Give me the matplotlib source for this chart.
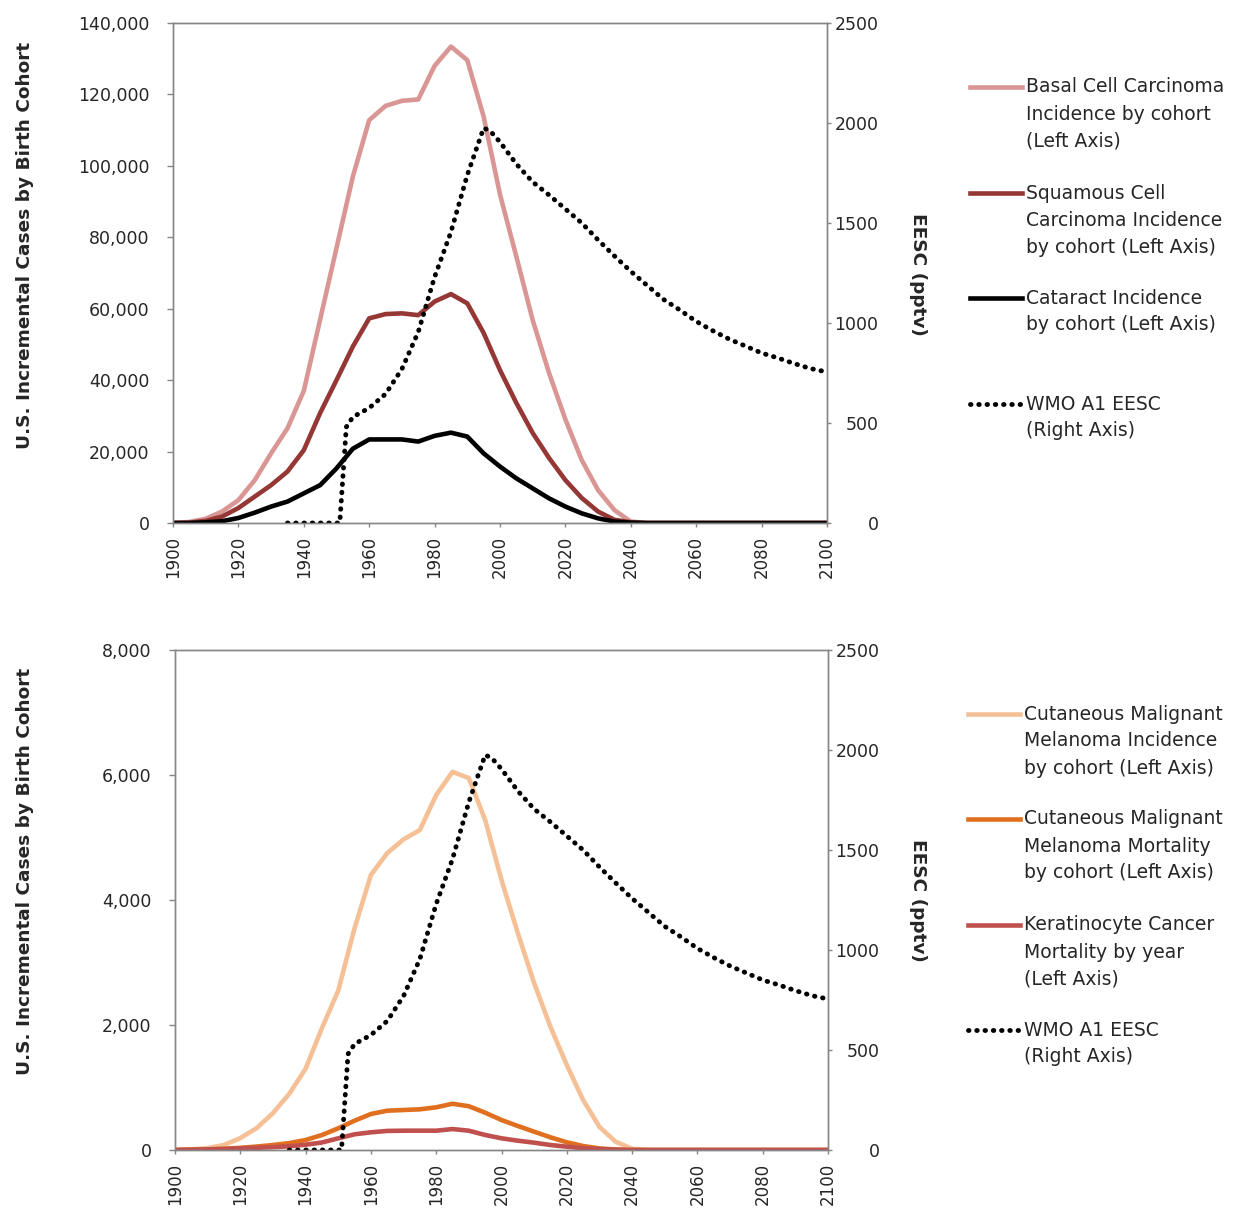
#Two stacked twin-axis charts: UV effects by birth cohort vs EESC
import matplotlib
matplotlib.use("Agg")
import matplotlib.pyplot as plt
from matplotlib.lines import Line2D
from matplotlib.ticker import FuncFormatter

W, H = 1233, 1210

#Data (birth cohorts every 5 years)
years = [1900, 1905, 1910, 1915, 1920, 1925, 1930, 1935, 1940, 1945,
         1950, 1955, 1960, 1965, 1970, 1975, 1980, 1985, 1990, 1995,
         2000, 2005, 2010, 2015, 2020, 2025, 2030, 2035, 2040, 2045,
         2050, 2055, 2060, 2065, 2070, 2075, 2080, 2085, 2090, 2095, 2100]

basal = [0, 300, 1200, 3200, 6400, 12000, 19500, 26500, 37000, 57000,
         77000, 97000, 112800, 116800, 118200, 118600, 128000, 133400, 129600, 113800,
         92000, 74600, 56800, 42000, 29000, 17600, 9200, 3600, 400, 0,
         0, 0, 0, 0, 0, 0, 0, 0, 0, 0, 0]
squamous = [0, 100, 600, 1800, 4200, 7400, 10600, 14400, 20400, 30800,
            40000, 49400, 57300, 58500, 58700, 58200, 62000, 64100, 61500, 53200,
            42800, 33600, 25200, 18200, 12000, 7000, 3200, 900, 200, 0,
            0, 0, 0, 0, 0, 0, 0, 0, 0, 0, 0]
cataract = [0, 0, 200, 500, 1400, 2900, 4600, 6000, 8300, 10600,
            15300, 20800, 23400, 23400, 23400, 22800, 24400, 25300, 24200, 19500,
            15800, 12500, 9700, 6900, 4600, 2700, 1300, 400, 100, 0,
            0, 0, 0, 0, 0, 0, 0, 0, 0, 0, 0]

mel_inc = [0, 10, 30, 80, 190, 350, 590, 900, 1300, 1950,
           2550, 3550, 4400, 4750, 4970, 5120, 5680, 6050, 5950, 5280,
           4320, 3470, 2670, 1970, 1360, 800, 370, 130, 20, 0,
           0, 0, 0, 0, 0, 0, 0, 0, 0, 0, 0]
mel_mort = [0, 5, 10, 20, 35, 55, 80, 110, 160, 240,
            347, 469, 576, 629, 640, 651, 683, 740, 700, 597,
            480, 384, 293, 203, 123, 64, 25, 8, 0, 0,
            0, 0, 0, 0, 0, 0, 0, 0, 0, 0, 0]
kera_mort = [0, 5, 10, 15, 25, 35, 45, 60, 85, 120,
             187, 251, 283, 305, 309, 309, 309, 335, 309, 240,
             187, 149, 117, 80, 53, 30, 15, 5, 0, 0,
             0, 0, 0, 0, 0, 0, 0, 0, 0, 0, 0]

eesc_years = [1935, 1951, 1953, 1955, 1960, 1965, 1970, 1975, 1980, 1985,
              1990, 1995, 1997, 2000, 2005, 2010, 2015, 2020, 2025, 2030,
              2035, 2040, 2045, 2050, 2055, 2060, 2065, 2070, 2075, 2080,
              2085, 2090, 2095, 2100]
eesc = [0, 0, 480, 530, 575, 645, 770, 955, 1230, 1455,
        1740, 1975, 1960, 1905, 1795, 1705, 1640, 1570, 1500, 1415,
        1335, 1258, 1188, 1118, 1065, 1008, 962, 920, 885, 850,
        825, 797, 772, 755]

top_series = [
    (basal, "#D99694", ["Basal Cell Carcinoma", "Incidence by cohort", "(Left Axis)"]),
    (squamous, "#953735", ["Squamous Cell", "Carcinoma Incidence", "by cohort (Left Axis)"]),
    (cataract, "black", ["Cataract Incidence", "by cohort (Left Axis)"]),
]
bottom_series = [
    (mel_inc, "#F5C096", ["Cutaneous Malignant", "Melanoma Incidence", "by cohort (Left Axis)"]),
    (mel_mort, "#E07020", ["Cutaneous Malignant", "Melanoma Mortality", "by cohort (Left Axis)"]),
    (kera_mort, "#C0504D", ["Keratinocyte Cancer", "Mortality by year", "(Left Axis)"]),
]
eesc_label = ["WMO A1 EESC", "(Right Axis)"]

#Style settings
plt.rcParams['font.family'] = ['DejaVu Sans']
spine_col = "#868686"
text_col = "#262626"
lw = 3.3
dot_style = dict(color="black", lw=3.5, linestyle=(0, (0.1, 1.6)), dash_capstyle="round")

fig = plt.figure(figsize=(W/100, H/100), dpi=100)

def px(x, y):
    return x/W, 1 - y/H

def make_panel(rect, series, ymax, ystep, label_y, legend_y, legend_x):
    ax = fig.add_axes(rect)
    for vals, col, _ in series:
        ax.plot(years, vals, color=col, lw=lw, solid_joinstyle="round")
    ax.set_xlim(1900, 2100)
    ax.set_ylim(0, ymax)
    ax.set_xticks(range(1900, 2101, 20))
    ax.set_yticks(range(0, ymax+1, ystep))
    ax.yaxis.set_major_formatter(FuncFormatter(lambda v, p: "{:,.0f}".format(v)))
    ax.tick_params(axis="y", direction="out", length=4, width=1, color=spine_col,
                   labelsize=12.5, labelcolor=text_col, pad=13)
    ax.tick_params(axis="x", direction="out", length=3, width=1, color=spine_col,
                   labelsize=12, labelcolor=text_col, pad=6, labelrotation=90)
    for s in ax.spines.values():
        s.set_color(spine_col)
        s.set_linewidth(1)

    ax2 = ax.twinx()
    ax2.plot(eesc_years, eesc, **dot_style)
    ax2.set_ylim(0, 2500)
    ax2.set_yticks(range(0, 2501, 500))
    ax2.tick_params(axis="y", direction="out", length=3, width=1, color=spine_col,
                    labelsize=12.5, labelcolor=text_col, pad=34)
    plt.setp(ax2.get_yticklabels(), ha="right")
    for s in ax2.spines.values():
        s.set_color(spine_col)
        s.set_linewidth(1)

    #Axis titles
    x, y = px(25, label_y)
    fig.text(x, y, "U.S. Incremental Cases by Birth Cohort", rotation=90, ha="center",
             va="center", fontsize=13.3, fontweight="bold", color=text_col)
    x, y = px(918, label_y + 29)
    fig.text(x, y, "EESC (pptv)", rotation=270, ha="center", va="center",
             fontsize=13.3, fontweight="bold", color=text_col)

    #Legend, one handle per entry aligned with its first text line
    handles = [dict(color=c, lw=lw) for _, c, _ in series] + [dot_style]
    labels = [lab for _, _, lab in series] + [eesc_label]
    for hy, kw, lines in zip(legend_y, handles, labels):
        x0, y0 = px(legend_x, hy)
        x1, _ = px(legend_x + 52, hy)
        fig.add_artist(Line2D([x0, x1], [y0, y0], transform=fig.transFigure, **kw))
        for i, t in enumerate(lines):
            tx, ty = px(legend_x + 56, hy + 27*i)
            fig.text(tx, ty, t, ha="left", va="center", fontsize=13.5, color=text_col)
    return ax, ax2

make_panel([173/W, 1-523/H, 654/W, 500/H], top_series, 140000, 20000,
           245, [87, 193, 298, 404], 970)
make_panel([175/W, 1-1150/H, 653/W, 500/H], bottom_series, 8000, 2000,
           871, [714, 819, 925, 1030], 968)

plt.savefig("out.png", dpi=100)
